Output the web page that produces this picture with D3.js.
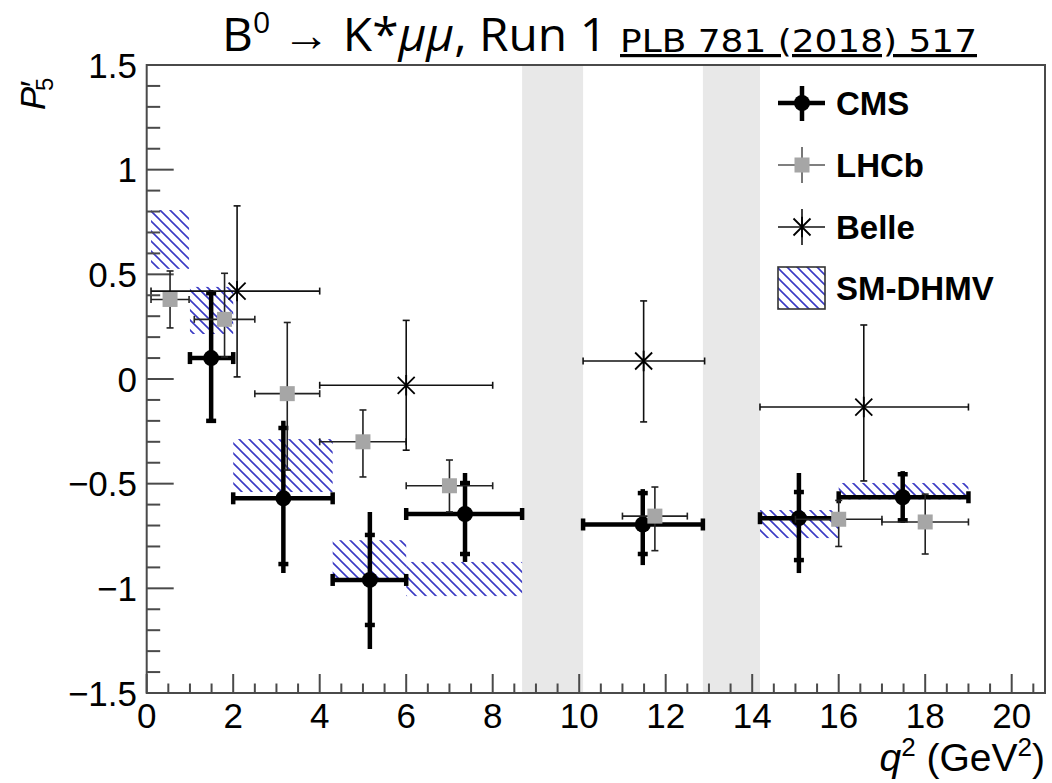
<!DOCTYPE html>
<html><head><meta charset="utf-8">
<script src="https://cdn.jsdelivr.net/npm/d3@7"></script>
<style>body{margin:0;background:#fff} svg{display:block}</style>
</head><body>
<svg id="c" width="1052" height="783"></svg>
<script>
// ---------- data ----------
const cmsQ2      = [1.49, 3.16, 5.16, 7.36, 11.47, 15.08, 17.48];
const cmsLo      = [1, 2, 4.3, 6, 10.09, 14.18, 16];
const cmsHi      = [2, 4.3, 6, 8.68, 12.86, 16, 19];
const cmsP5      = [0.10, -0.57, -0.96, -0.645, -0.695, -0.665, -0.565];
const cmsTotUp   = [0.325, 0.37, 0.325, 0.196, 0.169, 0.216, 0.125];
const cmsTotDn   = [0.31, 0.357, 0.33, 0.229, 0.194, 0.262, 0.123];
const cmsStatUp  = [0.31, 0.336, 0.215, 0.148, 0.15, 0.125, 0.11];
const cmsStatDn  = [0.30, 0.314, 0.215, 0.191, 0.141, 0.2, 0.11];

const lhcbQ2     = [0.54, 1.80, 3.25, 5.0, 7.0, 11.75, 16.0, 18.0];
const lhcbLo     = [0.1, 1.1, 2.5, 4, 6, 11, 15, 17];
const lhcbHi     = [0.98, 2.5, 4, 6, 8, 12.5, 17, 19];
const lhcbP5     = [0.38, 0.285, -0.07, -0.30, -0.51, -0.655, -0.67, -0.683];
const lhcbErrUp  = [0.136, 0.22, 0.34, 0.152, 0.123, 0.139, 0.09, 0.133];
const lhcbErrDn  = [0.136, 0.18, 0.365, 0.168, 0.125, 0.165, 0.13, 0.153];

const belleQ2    = [2.09, 6.0, 11.49, 16.58];
const belleLo    = [0.1, 4, 10.09, 14.18];
const belleHi    = [4, 8, 12.9, 19];
const belleP5    = [0.42, -0.03, 0.086, -0.134];
const belleErrUp = [0.407, 0.31, 0.287, 0.392];
const belleErrDn = [0.41, 0.31, 0.291, 0.353];

const smLo       = [0.1, 1, 2, 4.3, 6, 14.18, 16];
const smHi       = [0.98, 2, 4.3, 6, 8.68, 16, 19];
const smTop      = [0.807, 0.44, -0.287, -0.77, -0.874, -0.626, -0.497];
const smBottom   = [0.526, 0.215, -0.54, -0.965, -1.037, -0.76, -0.575];

const vetoLo     = [8.68, 12.86];
const vetoHi     = [10.09, 14.18];

const xTicks      = [0, 2, 4, 6, 8, 10, 12, 14, 16, 18, 20];
const xTickLabels = ["0","2","4","6","8","10","12","14","16","18","20"];
const yTicks      = [-1.5, -1, -0.5, 0, 0.5, 1, 1.5];
const yTickLabels = ["\u22121.5","\u22121","\u22120.5","0","0.5","1","1.5"];
const legendLabels = ["CMS", "LHCb", "Belle", "SM-DHMV"];

// ---------- layout ----------
const L = 146.7, R = 1045, T = 65, B = 693;
const x = d3.scaleLinear().domain([0, 20.77]).range([L, R]);
const y = d3.scaleLinear().domain([-1.5, 1.5]).range([B, T]);
const svg = d3.select("#c");
const axisCol = "#4a4a4a";
const sans = "'Liberation Sans', Arial, Helvetica, sans-serif";

// hatch pattern
const defs = svg.append("defs");
const pat = defs.append("pattern").attr("id","hatch").attr("patternUnits","userSpaceOnUse")
  .attr("width",10).attr("height",10);
pat.append("path").attr("d","M-5,5 L5,15 M0,0 L10,10 M5,-5 L15,5")
  .attr("stroke","#3a3ac4").attr("stroke-width",1.6).attr("fill","none");

// veto bands
svg.append("g").selectAll("rect").data(vetoLo).join("rect")
  .attr("x",(d)=>x(d)).attr("width",(d,i)=>x(vetoHi[i])-x(d))
  .attr("y",T).attr("height",B-T).attr("fill","#e8e8e8");

// SM boxes
svg.append("g").selectAll("rect").data(smLo).join("rect")
  .attr("x",d=>x(d)).attr("width",(d,i)=>x(smHi[i])-x(d))
  .attr("y",(d,i)=>y(smTop[i])).attr("height",(d,i)=>y(smBottom[i])-y(smTop[i]))
  .attr("fill","url(#hatch)");

// frame & ticks
const fr = svg.append("g");
fr.append("rect").attr("x",L).attr("y",T).attr("width",R-L).attr("height",B-T)
  .attr("fill","none").attr("stroke",axisCol).attr("stroke-width",2);
const xMinor = d3.range(0, 20.77, 0.5);
fr.selectAll(".xt").data(xMinor).join("line")
  .attr("x1",d=>x(d)).attr("x2",d=>x(d)).attr("y1",B)
  .attr("y2",d=>B-(Math.abs(d%2)<1e-9?19:9.5)).attr("stroke",axisCol).attr("stroke-width",2);
const yMinor = d3.range(-15, 16).map(v=>v/10);
fr.selectAll(".yt").data(yMinor).join("line")
  .attr("y1",d=>y(d)).attr("y2",d=>y(d)).attr("x1",L)
  .attr("x2",(d,i)=>L+((i%5)===0?27:13.5)).attr("stroke",axisCol).attr("stroke-width",2);

// tick labels
svg.append("g").selectAll("text").data(xTicks).join("text")
  .attr("x",d=>x(d)).attr("y",728).attr("text-anchor","middle")
  .attr("font-family",sans).attr("font-size",35).text((d,i)=>xTickLabels[i]);
svg.append("g").selectAll("text").data(yTicks).join("text")
  .attr("x",137).attr("y",d=>y(d)+12.5).attr("text-anchor","end")
  .attr("font-family",sans).attr("font-size",35).text((d,i)=>yTickLabels[i]);

// axis titles
const yt = svg.append("text").attr("transform","translate(45,110) rotate(-90)")
  .attr("text-anchor","start").attr("font-family",sans).attr("font-size",35);
yt.append("tspan").attr("font-style","italic").text("P");
yt.append("tspan").attr("font-style","italic").attr("dx",-2).text("\u2032");
yt.append("tspan").attr("font-size",24).attr("dx",-9).attr("dy",8).text("5");
const xt = svg.append("text").attr("x",1045).attr("y",771).attr("text-anchor","end")
  .attr("font-family",sans).attr("font-size",39);
xt.append("tspan").attr("font-style","italic").text("q");
xt.append("tspan").attr("font-size",26).attr("dy",-15).text("2");
xt.append("tspan").attr("dy",15).text(" (GeV");
xt.append("tspan").attr("font-size",26).attr("dy",-15).text("2");
xt.append("tspan").attr("dy",15).text(")");

// ---------- CMS ----------
const gC = svg.append("g");
cmsQ2.forEach((q,i)=>{
  const cx=x(q), cy=y(cmsP5[i]);
  gC.append("line").attr("x1",x(cmsLo[i])).attr("x2",x(cmsHi[i])).attr("y1",cy).attr("y2",cy)
    .attr("stroke","#000").attr("stroke-width",4.5);
  [cmsLo[i],cmsHi[i]].forEach(e=>gC.append("line").attr("x1",x(e)).attr("x2",x(e))
    .attr("y1",cy-6).attr("y2",cy+6).attr("stroke","#000").attr("stroke-width",4.5));
  gC.append("line").attr("x1",cx).attr("x2",cx)
    .attr("y1",y(cmsP5[i]+cmsTotUp[i])).attr("y2",y(cmsP5[i]-cmsTotDn[i]))
    .attr("stroke","#000").attr("stroke-width",4.5);
  [cmsP5[i]+cmsStatUp[i], cmsP5[i]-cmsStatDn[i]].forEach(v=>gC.append("line")
    .attr("x1",cx-5).attr("x2",cx+5).attr("y1",y(v)).attr("y2",y(v))
    .attr("stroke","#000").attr("stroke-width",4.5));
  gC.append("circle").attr("cx",cx).attr("cy",cy).attr("r",8).attr("fill","#000");
});

// ---------- LHCb ----------
const gL = svg.append("g");
function thinBars(g, q, v, lo, hi, up, dn, col){
  const cx=x(q), cy=y(v);
  g.append("line").attr("x1",x(lo)).attr("x2",x(hi)).attr("y1",cy).attr("y2",cy).attr("stroke",col).attr("stroke-width",1.6);
  g.append("line").attr("x1",cx).attr("x2",cx).attr("y1",y(v+up)).attr("y2",y(v-dn)).attr("stroke",col).attr("stroke-width",1.6);
  [lo,hi].forEach(e=>g.append("line").attr("x1",x(e)).attr("x2",x(e)).attr("y1",cy-3.5).attr("y2",cy+3.5).attr("stroke",col).attr("stroke-width",1.6));
  [v+up,v-dn].forEach(e=>g.append("line").attr("x1",cx-3.5).attr("x2",cx+3.5).attr("y1",y(e)).attr("y2",y(e)).attr("stroke",col).attr("stroke-width",1.6));
}
lhcbQ2.forEach((q,i)=>{
  thinBars(gL, q, lhcbP5[i], lhcbLo[i], lhcbHi[i], lhcbErrUp[i], lhcbErrDn[i], "#222");
  gL.append("rect").attr("x",x(q)-7.5).attr("y",y(lhcbP5[i])-7.5).attr("width",15).attr("height",15).attr("fill","#a6a6a6");
});

// ---------- Belle ----------
const gB = svg.append("g");
function star(g, cx, cy, s){
  g.append("path").attr("d",`M${cx-s},${cy-s}L${cx+s},${cy+s}M${cx-s},${cy+s}L${cx+s},${cy-s}M${cx},${cy-s*1.2}L${cx},${cy+s*1.2}`)
    .attr("stroke","#000").attr("stroke-width",1.8).attr("fill","none");
}
belleQ2.forEach((q,i)=>{
  thinBars(gB, q, belleP5[i], belleLo[i], belleHi[i], belleErrUp[i], belleErrDn[i], "#111");
  star(gB, x(q), y(belleP5[i]), 8.5);
});

// ---------- legend ----------
const lg = svg.append("g");
const lx = 802, rows = [103, 165, 227, 288];
lg.append("line").attr("x1",778).attr("x2",825).attr("y1",rows[0]).attr("y2",rows[0]).attr("stroke","#000").attr("stroke-width",4.5);
lg.append("line").attr("x1",lx).attr("x2",lx).attr("y1",rows[0]-17).attr("y2",rows[0]+18).attr("stroke","#000").attr("stroke-width",4.5);
lg.append("circle").attr("cx",lx).attr("cy",rows[0]).attr("r",8).attr("fill","#000");
lg.append("line").attr("x1",778).attr("x2",825).attr("y1",rows[1]).attr("y2",rows[1]).attr("stroke","#555").attr("stroke-width",1.6);
lg.append("line").attr("x1",lx).attr("x2",lx).attr("y1",rows[1]-18).attr("y2",rows[1]+18).attr("stroke","#555").attr("stroke-width",1.6);
lg.append("rect").attr("x",lx-7.5).attr("y",rows[1]-7.5).attr("width",15).attr("height",15).attr("fill","#a6a6a6");
lg.append("line").attr("x1",778).attr("x2",825).attr("y1",rows[2]).attr("y2",rows[2]).attr("stroke","#111").attr("stroke-width",1.6);
lg.append("line").attr("x1",lx).attr("x2",lx).attr("y1",rows[2]-18).attr("y2",rows[2]+18).attr("stroke","#111").attr("stroke-width",1.6);
star(lg, lx, rows[2], 8.5);
lg.append("rect").attr("x",778).attr("y",rows[3]-21).attr("width",47).attr("height",42)
  .attr("fill","url(#hatch)").attr("stroke","#333").attr("stroke-width",1.6);
lg.selectAll(".lt").data(legendLabels).join("text")
  .attr("x",836).attr("y",(d,i)=>rows[i]+12).attr("font-family",sans).attr("font-weight","bold")
  .attr("font-size",33).text(d=>d);

// ---------- title ----------
const tf = "'Open Sans', 'Noto Sans', sans-serif";
const t1 = svg.append("text").attr("x",222).attr("y",51).attr("font-family",tf).attr("font-size",46)
  .attr("textLength",385).attr("lengthAdjust","spacingAndGlyphs");
t1.append("tspan").text("B");
t1.append("tspan").attr("font-size",29).attr("dy",-18).text("0");
t1.append("tspan").attr("dy",18).text(" \u2192 K*");
t1.append("tspan").attr("font-style","italic").text("\u03bc\u03bc");
t1.append("tspan").text(", Run 1");
svg.append("text").attr("x",620).attr("y",52).attr("font-family","'DejaVu Sans', sans-serif").attr("font-size",32)
  .attr("textLength",357).attr("lengthAdjust","spacingAndGlyphs")
  .attr("text-decoration","underline").text("PLB 781 (2018) 517");
</script>
</body></html>
